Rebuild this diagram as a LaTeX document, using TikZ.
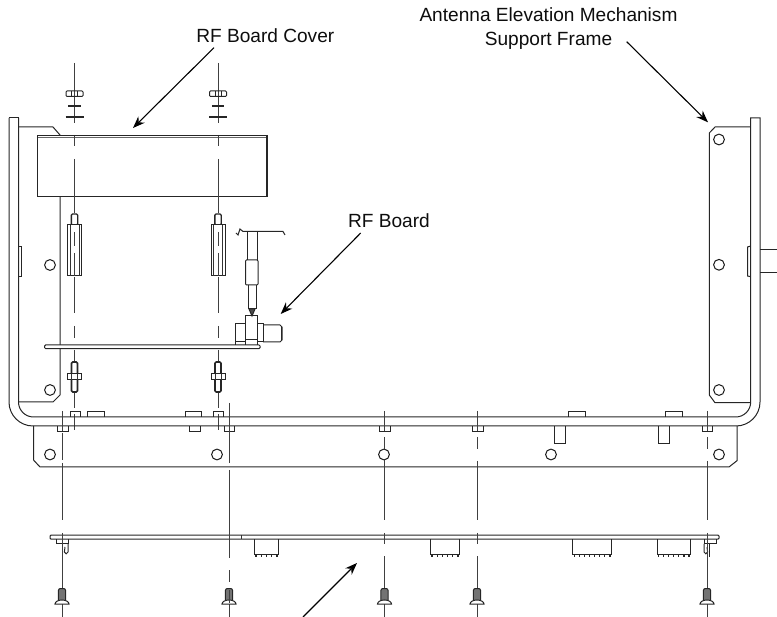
\documentclass[tikz,border=0pt]{standalone}
\usepackage{fontspec}
\setmainfont{Liberation Sans}
\usetikzlibrary{arrows.meta}
\tikzset{
 ln/.style={line width=1pt,draw=black!85},
 thin ln/.style={line width=0.7pt,draw=black!80},
 hv/.style={line width=1.4pt,draw=black!85},
 cl/.style={line width=1pt,draw=black!75},
 hole/.style={line width=1pt,draw=black!90,fill=white},
 lead/.style={line width=1.1pt,draw=black,-{Stealth[length=12pt,width=9pt]}},
 lbl/.style={font=\fontsize{19.1}{23.5}\selectfont,align=center,inner sep=0pt,text=black!95},
}
% centre line made of y-from/y-to segments
\newcommand{\cenln}[2]{\foreach \a/\b in {#2}{\draw[cl] (#1,\a) -- (#1,\b);}}
\newcommand{\nutset}[1]{\begin{scope}[xshift=#1pt]
 \draw[ln,rounded corners=1pt] (-8.5,91) rectangle (8.5,96.5);
 \draw[ln] (-3,91)--(-3,96.5) (3,91)--(3,96.5);
 \draw[hv] (-6.2,106)--(6.2,106);
 \draw[hv] (-9,117)--(9,117);
 \draw[hv,fill=white,rounded corners=1.2pt] (-3.2,214)rectangle(3.2,225);
 \draw[ln,fill=white] (-7,225) rectangle (7,276);
 \draw[thin ln] (-4.5,225)--(-4.5,276) (4.5,225)--(4.5,276);
 \draw[cl] (0,232)--(0,246) (0,253)--(0,276);
 \draw[hv,fill=white,line width=1.6pt,rounded corners=1.2pt] (-3,362) rectangle (3,392);
 \draw[ln,fill=white] (-7,374) rectangle (7,380);
 \draw[thin ln] (-3,374)--(-3,380) (3,374)--(3,380);
\end{scope}}
\newcommand{\rivet}[1]{\begin{scope}[xshift=#1pt]
 \draw[ln,fill=black!55,rounded corners=2pt] (-3.6,603)--(-3.6,588.5)--(3.6,588.5)--(3.6,603)--cycle;
 \draw[ln,fill=white] (-7,604)--(7,604) arc[start angle=0,end angle=-180,x radius=7,y radius=4] -- cycle;
\end{scope}}
\newcommand{\chip}[3]{% left, right, pin count
 \draw[ln] (#1,539.5)--(#1,554)--(#2,554)--(#2,539.5);
 \pgfmathsetmacro{\st}{(#2-#1-3)/(#3-1)}
 \foreach \i in {1,...,#3}{\draw[hv,line width=1.2pt] ({#1+1.5+(\i-1)*\st},554)--({#1+1.5+(\i-1)*\st},557);}
}
\begin{document}
\begin{tikzpicture}[x=1pt,y=-1pt]
\useasboundingbox (0,0) rectangle (777,617);
% centre lines, upper pair
\foreach \x in {74.5,218}{\cenln{\x}{63/123,135/146,159/213,277/313,326/338,350/362,392/408,414/430}}
% chassis
\draw[ln] (9,118)--(18.5,118);
\draw[ln] (9,118)--(9,402) arc[start angle=180,end angle=90,radius=24] -- (736,426) arc[start angle=90,end angle=0,radius=24] -- (760,118)--(750.7,118)--(750.7,402) arc[start angle=0,end angle=90,radius=15] -- (33.5,417) arc[start angle=90,end angle=180,radius=15] -- (18.5,118);
% left frame plate
\draw[ln] (18.5,127)--(53,127)--(60,135)--(60,395)--(53,402)--(18.5,402);
\draw[ln] (18.5,247)--(21.5,247)--(21.5,277)--(18.5,277);
\draw[thin ln] (44,136) arc[start angle=180,end angle=0,radius=5];
% right frame plate
\draw[ln] (750.7,127)--(715,127)--(709.3,133)--(709.3,395)--(715,402.7)--(750.7,402.7);
\draw[ln] (750.7,246)--(747.5,247)--(747.5,276)--(750.7,276.7);
\draw[ln] (760,250)--(777,250) (760,273)--(777,273);
% holes
\foreach \x/\y in {50/265,50/390,719/139.5,719/264.8,719/390,50/454.5,217/454.5,384/454.5,551/454.5,719/454.5}
 {\draw[hole] (\x,\y) circle[radius=5.4];}
% lower bracket
\draw[ln] (33.5,426)--(33.5,460)--(40,467)--(729,467)--(737,460.7)--(737,426);
% tabs on top of chassis
\foreach \a/\b in {70/80,87.5/104,185/201.5,213/223.5,568/585,665/682}
 {\draw[ln] (\a,417)--(\a,412)--(\b,412)--(\b,417);}
% tabs below
\foreach \a/\b in {57/68,189/200,224/234.5,379.5/390.5,472/483,702/712.5}
 {\draw[ln] (\a,426)--(\a,431.5)--(\b,431.5)--(\b,426);}
\foreach \a/\b in {554/565.5,658/669}
 {\draw[ln] (\a,426)--(\a,444)--(\b,444)--(\b,426);}
% cover
\draw[ln,fill=white] (37,136) rectangle (267,197);
\draw[ln,draw=black!60] (37,138)--(267,138);
\draw[hv] (37.7,136)--(37.7,197) (266.3,136)--(266.3,197);
% re-draw centre line over cover
\foreach \x in {74.5,218}{\cenln{\x}{136/146,159/197}}
% hardware on the upper centre lines
\nutset{74.5}
\nutset{218}
% RF board
\draw[ln,fill=white,rounded corners=1pt] (44.7,345) rectangle (260,348.7);
% connector
\draw[ln] (236,233)--(238,235)--(240,229)--(243,231.5)--(283,231.5)--(285,235);
\draw[ln] (247,231.5)--(247,260) (257,231.5)--(257,260);
\draw[ln,rounded corners=1pt] (245.5,260) rectangle (258,285);
\draw[ln] (248,285)--(248,309)--(256,309)--(256,285);
\draw[ln,fill=black!70] (249,309)--(252,316)--(255,309)--cycle;
\draw[ln] (235.7,345)--(235.7,323.5)--(245.5,323.5) (235.7,342)--(245.5,342);
\draw[ln] (245.5,345)--(245.5,315.5)--(257.5,315.5)--(257.5,345) (245.5,340)--(257.5,340);
\draw[ln] (257.5,324)--(263,324)--(263,342)--(257.5,342);
\draw[ln] (263,325)--(280,325)--(282,327)--(282,340)--(280,342)--(263,342);
\draw[hv] (281.6,326.5)--(281.6,340.5);
% lower board
\draw[ln,rounded corners=1pt] (50,535.2) rectangle (719,539.2);
\draw[thin ln] (241,535.2)--(241,539.2);
\chip{254.5}{278.5}{5}
\chip{430.5}{459.5}{6}
\chip{572.7}{611.5}{8}
\chip{657}{690.5}{7}
% clips
\draw[ln] (56,539.2)--(56,544)--(68,544)--(68,539.2);
\draw[ln] (68,544)--(68,552) arc[start angle=0,end angle=180,radius=1.8] -- (65,547);
\draw[ln] (62.5,544)--(62.5,557);
\draw[ln] (716,539.2)--(716,544)--(704,544)--(704,539.2);
\draw[ln] (704,544)--(704,552) arc[start angle=180,end angle=0,radius=1.8] -- (707,547);
\draw[ln] (709.5,544)--(709.5,557);
% lower centre lines
\cenln{62}{411/431,433/460,463/520,533/617}
\cenln{229}{403/462.7,470/558,570/582,588/617}
\cenln{384.5}{411/431,437/449,460/520,533/544,556/617}
\cenln{477}{411/431,437/449,461/520,533/544,556/617}
\cenln{707}{411/431,437/449,461/520,533/617}
% rivets
\rivet{62}\rivet{229}\rivet{384.5}\rivet{477}\rivet{707}
\draw[cl] (229,590)--(229,603);
% labels
\node[lbl] (covertext) at (265.3,35.5) {RF Board Cover};
\node[lbl] (frametext) at (548.5,28.5) {Antenna Elevation Mechanism\\Support Frame};
\node[lbl] (boardtext) at (389,221) {RF Board};
% leaders
\coordinate (c1) at (214,47.7); \coordinate (c2) at (133,128);
\coordinate (f1) at (626.7,41.7); \coordinate (f2) at (708,122.3);
\coordinate (b1) at (360.7,233); \coordinate (b2) at (280.7,314);
\coordinate (p1) at (303,617); \coordinate (p2) at (357,563);
\draw[lead] (c1)--(c2);
\draw[lead] (f1)--(f2);
\draw[lead] (b1)--(b2);
\draw[lead] (p1)--(p2);
\end{tikzpicture}
\end{document}
